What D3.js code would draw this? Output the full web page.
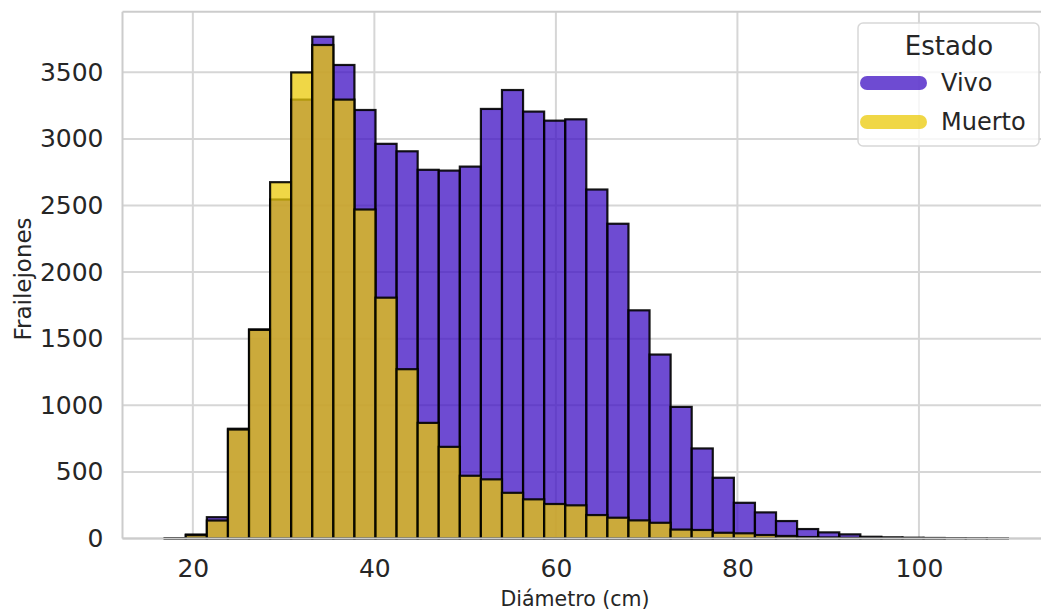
<!DOCTYPE html>
<html>
<head>
<meta charset="utf-8">
<script src="https://cdn.jsdelivr.net/npm/d3@7"></script>
<style>
  body { margin: 0; background: #fff; }
  text { font-family: "DejaVu Sans", sans-serif; fill: #262626; }
</style>
</head>
<body>
<div id="chart"></div>
<script>
// histogram bins (common bins for both groups)
var binStart = 16.9, binEnd = 109.8, nBins = 40;

// counts per bin
var vivo = [3, 30, 160, 824, 1570, 2545, 3295, 3767, 3555, 3217, 2963, 2907, 2768, 2762,
            2792, 3225, 3367, 3205, 3137, 3147, 2620, 2363, 1713, 1381, 988, 676, 456, 268,
            196, 131, 71, 46, 31, 13, 9, 6, 4, 3, 2, 1];
var muerto = [1, 25, 135, 818, 1566, 2675, 3499, 3705, 3295, 2470, 1808, 1271, 868, 688,
              471, 444, 343, 294, 259, 249, 176, 156, 136, 118, 67, 64, 43, 39, 26, 19,
              11, 8, 5, 3, 2, 1, 1, 0, 0, 0];

var series = ["Vivo", "Muerto"];
var colors = {"Vivo": "#3d0fc3", "Muerto": "#ebc908"};
var xTicks = [20, 40, 60, 80, 100];
var yTicks = [0, 500, 1000, 1500, 2000, 2500, 3000, 3500];

var W = 1041, H = 610;
var margin = {top: 11.7, left: 122.5, right: 1052, bottom: 538.5};

var svg = d3.select("#chart").append("svg")
    .attr("width", W)
    .attr("height", H);

var x = d3.scaleLinear().domain([12.25, 114.66]).range([margin.left, margin.right]);
var y = d3.scaleLinear().domain([0, 3955]).range([margin.bottom, margin.top]);

var binW = (binEnd - binStart) / nBins;
function binData(counts) {
    return counts.map(function(c, i) {
        return {x0: binStart + i * binW, x1: binStart + (i + 1) * binW, n: c};
    });
}

// grid
var grid = svg.append("g");
grid.selectAll(".gx").data(xTicks).enter().append("line")
    .attr("x1", function(d) { return x(d); })
    .attr("x2", function(d) { return x(d); })
    .attr("y1", margin.top).attr("y2", margin.bottom)
    .attr("stroke", "#d6d6d6").attr("stroke-width", 2);
grid.selectAll(".gy").data(yTicks).enter().append("line")
    .attr("x1", margin.left).attr("x2", margin.right)
    .attr("y1", function(d) { return y(d); })
    .attr("y2", function(d) { return y(d); })
    .attr("stroke", "#d6d6d6").attr("stroke-width", 2);

// bars: Vivo first, Muerto layered on top
var bars = svg.append("g");
series.forEach(function(s) {
    var data = binData(s === "Vivo" ? vivo : muerto);
    bars.append("g").selectAll("rect")
        .data(data)
        .enter()
        .append("rect")
        .attr("x", function(d) { return x(d.x0); })
        .attr("width", function(d) { return x(d.x1) - x(d.x0); })
        .attr("y", function(d) { return y(d.n); })
        .attr("height", function(d) { return y(0) - y(d.n); })
        .attr("fill", colors[s])
        .attr("fill-opacity", 0.75)
        .attr("stroke", "#000")
        .attr("stroke-opacity", 0.9)
        .attr("stroke-width", 2.2);
});

// spines
svg.append("line").attr("x1", margin.left).attr("x2", margin.left)
    .attr("y1", margin.top).attr("y2", margin.bottom)
    .attr("stroke", "#cccccc").attr("stroke-width", 2);
svg.append("line").attr("x1", margin.left).attr("x2", margin.right)
    .attr("y1", margin.top).attr("y2", margin.top)
    .attr("stroke", "#cccccc").attr("stroke-width", 2);
svg.append("line").attr("x1", margin.left).attr("x2", margin.right)
    .attr("y1", margin.bottom).attr("y2", margin.bottom)
    .attr("stroke", "#cccccc").attr("stroke-width", 2);

// axes
var xAxis = svg.append("g")
    .attr("transform", "translate(0," + margin.bottom + ")")
    .call(d3.axisBottom(x).tickValues(xTicks).tickSize(0).tickPadding(21));
var yAxis = svg.append("g")
    .attr("transform", "translate(" + margin.left + ",0)")
    .call(d3.axisLeft(y).tickValues(yTicks).tickFormat(d3.format("d")).tickSize(0).tickPadding(19));
[xAxis, yAxis].forEach(function(a) {
    a.select(".domain").remove();
    a.selectAll("text")
        .style("font-family", "DejaVu Sans, sans-serif")
        .style("font-size", "25px")
        .attr("fill", "#262626");
});

// axis labels
svg.append("text")
    .attr("x", 575).attr("y", 606)
    .attr("text-anchor", "middle")
    .style("font-size", "20.5px")
    .text("Diámetro (cm)");
svg.append("text")
    .attr("transform", "translate(31,279) rotate(-90)")
    .attr("text-anchor", "middle")
    .style("font-size", "23px")
    .text("Frailejones");

// legend
var lg = svg.append("g");
lg.append("rect")
    .attr("x", 858).attr("y", 23).attr("width", 181).attr("height", 123)
    .attr("rx", 5)
    .attr("fill", "#fff").attr("fill-opacity", 0.8)
    .attr("stroke", "#d8d8d8").attr("stroke-width", 1.5);
lg.append("text")
    .attr("x", 949).attr("y", 55)
    .attr("text-anchor", "middle")
    .style("font-size", "26px")
    .text("Estado");
series.forEach(function(s, i) {
    var cy = 83 + i * 39;
    lg.append("line")
        .attr("x1", 867).attr("x2", 920)
        .attr("y1", cy).attr("y2", cy)
        .attr("stroke", colors[s]).attr("stroke-opacity", 0.75)
        .attr("stroke-width", 14)
        .attr("stroke-linecap", "round");
    lg.append("text")
        .attr("x", 941).attr("y", cy + 8)
        .style("font-size", "24px")
        .text(s);
});
</script>
</body>
</html>
